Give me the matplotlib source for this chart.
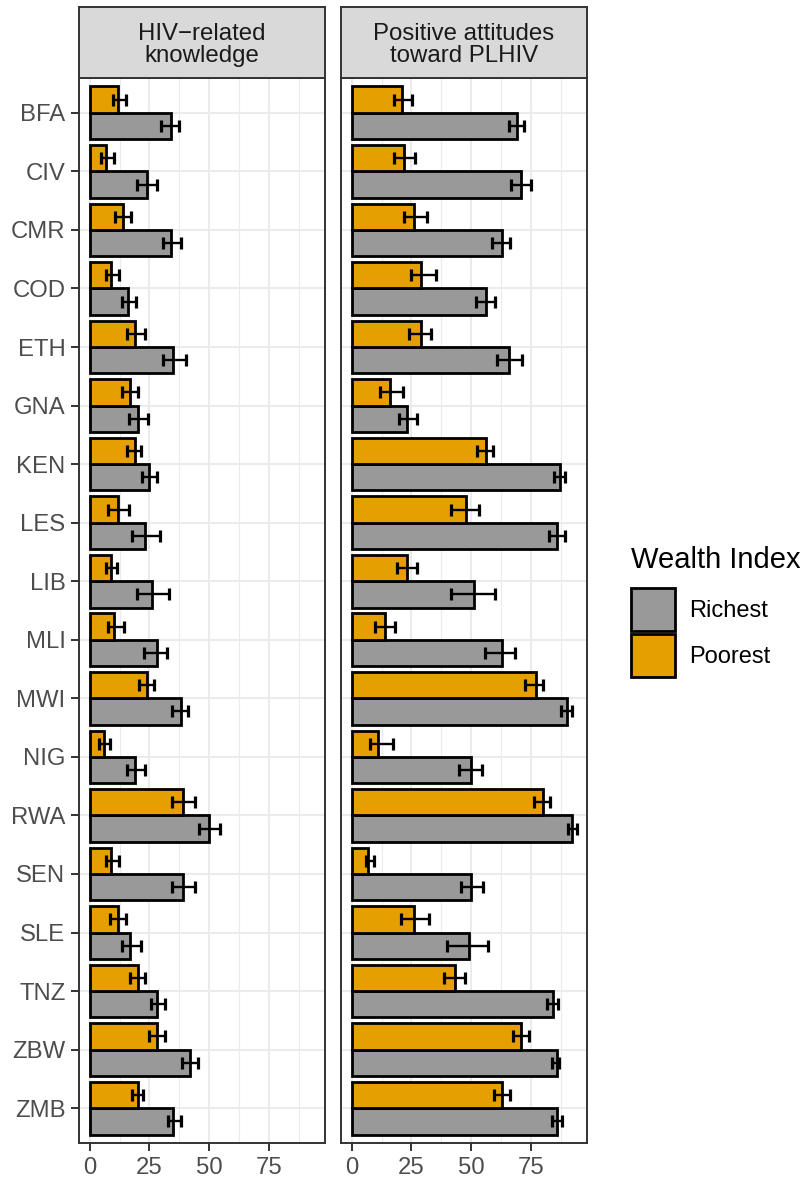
import numpy as np
import matplotlib
matplotlib.use('Agg')
import matplotlib.pyplot as plt
from matplotlib.patches import Patch

plt.rcParams['font.family'] = ['Liberation Sans', 'DejaVu Sans']

countries = ['BFA', 'CIV', 'CMR', 'COD', 'ETH', 'GNA', 'KEN', 'LES', 'LIB',
             'MLI', 'MWI', 'NIG', 'RWA', 'SEN', 'SLE', 'TNZ', 'ZBW', 'ZMB']

# HIV-related knowledge (%)
know_poor    = [12, 7, 14, 9, 19, 17, 19, 12, 9, 10, 24, 6, 39, 9, 12, 20, 28, 20]
know_poor_lo = [9.7, 4.7, 10.7, 6.7, 15.7, 13.6, 15.7, 7.8, 6.7, 7.8, 20.7, 3.8, 34.6, 6.7, 8.6, 16.7, 24.6, 17.6]
know_poor_hi = [15.3, 10.3, 17.4, 12.2, 23.3, 20.4, 21.3, 16.3, 11.3, 14.2, 27.1, 8.3, 44.2, 12.2, 15.3, 23.3, 31.3, 22.2]
know_rich    = [34, 24, 34, 16, 35, 20, 25, 23, 26, 28, 38, 19, 50, 39, 17, 28, 42, 35]
know_rich_lo = [29.7, 19.7, 30.6, 13.7, 30.6, 16.5, 21.7, 17.6, 19.7, 22.8, 34.6, 15.7, 45.6, 34.4, 13.7, 25.7, 38.5, 32.6]
know_rich_hi = [37.2, 28.3, 38.2, 19.2, 40.3, 24.2, 28.3, 29.2, 33.2, 32.2, 41.3, 23.3, 54.3, 44.2, 21.3, 31.3, 45.1, 38.2]

# Positive attitudes toward PLHIV (%)
att_poor    = [21, 22, 26, 29, 29, 16, 56, 48, 23, 14, 77, 11, 80, 7, 26, 43, 71, 63]
att_poor_lo = [17.8, 17.8, 21.8, 24.7, 23.9, 11.8, 52.6, 41.7, 18.8, 9.9, 72.6, 7.8, 76.4, 5.8, 20.7, 38.8, 67.6, 59.6]
att_poor_hi = [25.3, 26.4, 31.3, 35.3, 33.3, 21.4, 59.2, 53.2, 27.4, 18.3, 80.1, 17.4, 83.1, 9.2, 32.2, 47.2, 74.0, 66.1]
att_rich    = [69, 71, 63, 56, 66, 23, 87, 86, 51, 63, 90, 50, 92, 50, 49, 84, 86, 86]
att_rich_lo = [65.7, 66.5, 58.6, 51.8, 60.7, 19.7, 84.6, 82.6, 41.7, 55.7, 87.6, 44.7, 90.6, 45.7, 39.7, 81.7, 83.6, 83.6]
att_rich_hi = [72.2, 75.1, 66.1, 60.1, 71.1, 27.4, 89.2, 89.2, 60.1, 68.2, 92.1, 54.3, 94.2, 55.1, 57.2, 86.1, 86.9, 88.1]

panels = ['HIV\u2212related\nknowledge', 'Positive attitudes\ntoward PLHIV']
groups = ['Richest', 'Poorest']
colors = {'Richest': '#999999', 'Poorest': '#E69F00'}

data = [
    {'Richest': (know_rich, know_rich_lo, know_rich_hi),
     'Poorest': (know_poor, know_poor_lo, know_poor_hi)},
    {'Richest': (att_rich, att_rich_lo, att_rich_hi),
     'Poorest': (att_poor, att_poor_lo, att_poor_hi)},
]

W, H = 805, 1177
fig = plt.figure(figsize=(W / 100, H / 100), dpi=100)

grey20 = '#333333'
grid_col = '#EBEBEB'
y = np.arange(len(countries))[::-1].astype(float)
bw = 0.45
offsets = {'Richest': -bw / 2, 'Poorest': bw / 2}

panel_left = [78.7, 340.7]
panel_w = 246.5
top_px, bot_px, strip_top = 77.7, 1143.3, 7.3

for k, left in enumerate(panel_left):
    ax = fig.add_axes([left / W, 1 - bot_px / H, panel_w / W, (bot_px - top_px) / H])
    ax.set_xlim(-4.6, 98.5)
    ax.set_ylim(-0.6, len(countries) - 0.4)
    ax.set_xticks([0, 25, 50, 75])
    ax.set_xticks([12.5, 37.5, 62.5, 87.5], minor=True)
    ax.set_yticks(y)
    ax.set_yticklabels(countries if k == 0 else [])
    ax.grid(which='major', color=grid_col, lw=1.5, zorder=0)
    ax.grid(which='minor', axis='x', color=grid_col, lw=0.8, zorder=0)
    ax.set_axisbelow(True)
    for g in groups:
        val, lo, hi = data[k][g]
        val = np.array(val, float)
        ax.barh(y + offsets[g], val, height=bw, color=colors[g],
                edgecolor='black', linewidth=2.0, zorder=2)
    for g in groups:
        val, lo, hi = data[k][g]
        val, lo, hi = np.array(val, float), np.array(lo, float), np.array(hi, float)
        ax.errorbar(val, y + offsets[g], xerr=[val - lo, hi - val], fmt='none',
                    ecolor='black', elinewidth=1.7, capsize=4, capthick=2.3, zorder=3)
    for s in ax.spines.values():
        s.set_color(grey20)
        s.set_linewidth(1.4)
        s.set_zorder(4)
    ax.tick_params(axis='both', which='major', length=5.5, width=1.4, color=grey20,
                   labelsize=17.2, labelcolor='#4D4D4D')
    ax.tick_params(axis='x', pad=4.5)
    ax.tick_params(axis='y', pad=4)
    ax.tick_params(which='minor', length=0)
    if k == 1:
        ax.tick_params(axis='y', length=0)

    sax = fig.add_axes([left / W, 1 - top_px / H, panel_w / W, (top_px - strip_top) / H])
    sax.set_facecolor('#D9D9D9')
    sax.set_xticks([])
    sax.set_yticks([])
    for s in sax.spines.values():
        s.set_color(grey20)
        s.set_linewidth(1.4)
    sax.text(0.5, 0.47, panels[k], ha='center', va='center', fontsize=17.3,
             color='#1A1A1A', linespacing=1.0, transform=sax.transAxes)

handles = [Patch(facecolor=colors[g], edgecolor='black', linewidth=2.0, label=g) for g in groups]
leg = fig.legend(handles=handles, title='Wealth Index', loc='upper left',
                 bbox_to_anchor=(631 / W, 1 - 546 / H), frameon=False,
                 fontsize=17, title_fontsize=21, borderpad=0, borderaxespad=0,
                 handlelength=1.85, handleheight=2.45, handletextpad=0.6,
                 labelspacing=0.1, alignment='left')
leg._legend_box.sep = 10

fig.savefig('out.png', dpi=100)
